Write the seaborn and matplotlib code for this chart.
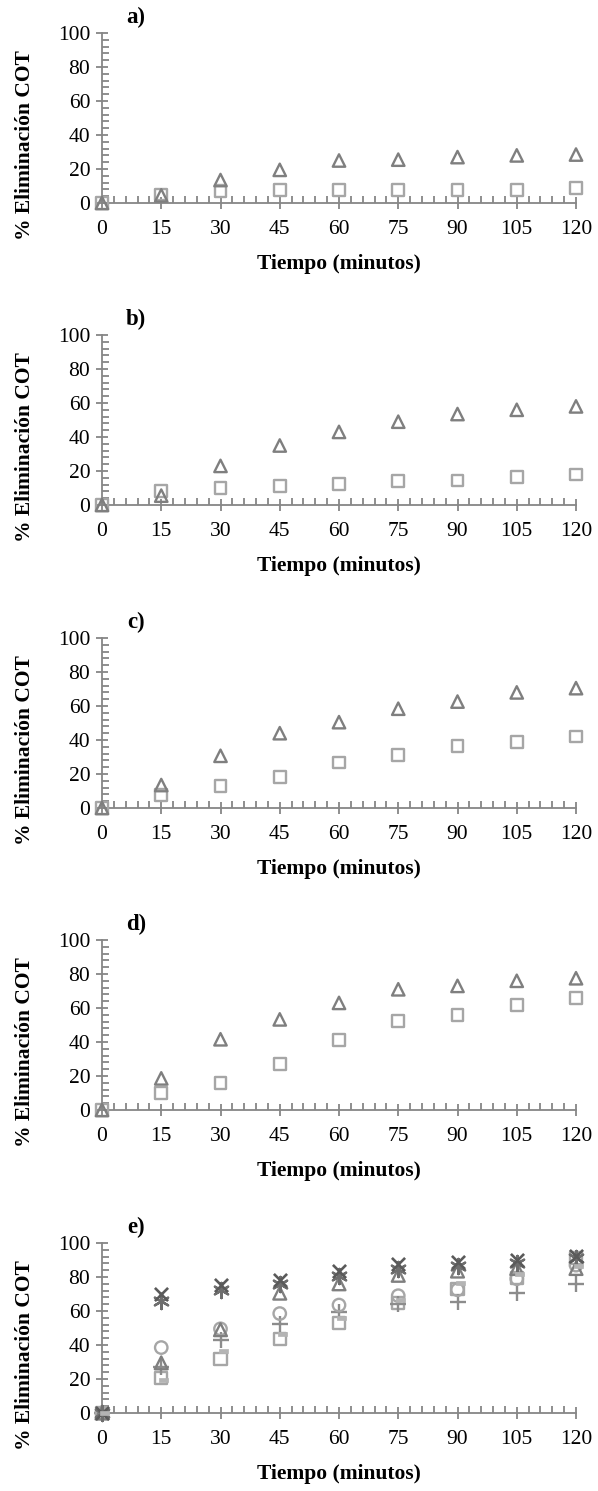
import numpy as np
import matplotlib
matplotlib.use("Agg")
import matplotlib.pyplot as plt
import seaborn as sns
from matplotlib.path import Path
from matplotlib.ticker import MultipleLocator

# time axis (minutes)
tiempo = [0, 15, 30, 45, 60, 75, 90, 105, 120]

# panels a-d: two series each (triangle / square)
a_tri = [0, 4.5, 13.5, 19.5, 25, 25.5, 27, 28, 28.5]
a_sq = [0, 5, 7, 7.8, 7.5, 7.8, 7.8, 7.8, 8.7]
b_tri = [0, 5.5, 23, 35, 43, 49, 53.5, 56, 58]
b_sq = [0, 8.3, 10, 11.2, 12.3, 14, 14.5, 16.5, 18]
c_tri = [0, 13.5, 30.7, 44, 50.5, 58.4, 62.6, 68, 70.5]
c_sq = [0, 7.5, 13, 18.2, 26.8, 31.3, 36.6, 38.7, 42]
d_tri = [0, 18.6, 41.6, 53.3, 63, 71, 73, 76, 77.5]
d_sq = [0, 10, 16, 27, 41.2, 52.4, 56, 61.8, 66]

# panel e: seven series
e_sq = [0, 20.5, 31.5, 43.5, 53, 64.5, 73, 79.5, 91]
e_plus = [0, 27, 43, 52.5, 59.5, 64, 65.5, 70.5, 76]
e_circ = [0, 38.5, 49.5, 58.5, 63.5, 69, 72.5, 79, 87]
e_tri = [0, 29.5, 49, 70.5, 76, 81, 83.5, 85, 85]
e_ast = [0, 66, 72.5, 76, 80.5, 84.5, 86.5, 88, 91]
e_x = [0, 70, 75.5, 78.5, 83.5, 87.5, 89, 90, 92.5]
e_dash = [0, 19.5, 36.5, 46.5, 56, 66.5, 76.5, 82, 86.5]

letras = ["a)", "b)", "c)", "d)", "e)"]

sns.set_style("white")
plt.rcParams["font.family"] = ["Liberation Serif", "DejaVu Serif"]
plt.rcParams["text.color"] = "black"
plt.rcParams["axes.labelcolor"] = "black"

# small bar marker, slightly to the right of the point (as in the original)
dash_marker = Path([(-0.25, -0.28), (0.85, -0.28), (0.85, 0.28), (-0.25, 0.28), (-0.25, -0.28)],
                   [Path.MOVETO, Path.LINETO, Path.LINETO, Path.LINETO, Path.CLOSEPOLY])

fig = plt.figure(figsize=(5.98, 14.91), dpi=100)
W, H = 598, 1491
left_px, width_px, h_px = 102, 474, 170
tops = [33, 335, 638, 940, 1243]

TRI_C = "#7f7f7f"
SQ_C = "#a6a6a6"


def hollow(ax, y, marker, color, s=75, lw=1.7, z=3):
    sns.scatterplot(x=tiempo, y=y, marker=marker, s=s, facecolor="none",
                    edgecolor=color, linewidth=lw, ax=ax, clip_on=False, zorder=z)


def lined(ax, y, marker, color, s=80, lw=1.7, z=3):
    sns.scatterplot(x=tiempo, y=y, marker=marker, s=s, color=color,
                    linewidth=lw, ax=ax, clip_on=False, zorder=z)


axes = []
for i, top in enumerate(tops):
    ax = fig.add_axes([left_px / W, 1 - (top + h_px) / H, width_px / W, h_px / H])
    axes.append(ax)

pairs = [(a_tri, a_sq), (b_tri, b_sq), (c_tri, c_sq), (d_tri, d_sq)]
for ax, (tri, sq) in zip(axes[:4], pairs):
    hollow(ax, sq, "s", SQ_C, s=70)
    hollow(ax, tri, "^", TRI_C, s=80)

ax = axes[4]
hollow(ax, e_sq, "s", SQ_C, s=75)
lined(ax, e_plus, "+", "#8c8c8c", s=120)
hollow(ax, e_circ, "o", SQ_C, s=80)
hollow(ax, e_tri, "^", TRI_C, s=85)
lined(ax, e_ast, (6, 2, 0), "#6e6e6e", s=120, lw=1.7)
lined(ax, e_x, "x", "#5a5a5a", s=90, lw=1.9)
sns.scatterplot(x=tiempo, y=e_dash, marker=dash_marker, s=95, color="#b4b4b4",
                edgecolor="#b4b4b4", linewidth=0.5, ax=ax, clip_on=False, zorder=4)

for ax, letra in zip(axes, letras):
    ax.set_xlim(0, 120)
    ax.set_ylim(0, 100)
    ax.xaxis.set_major_locator(MultipleLocator(15))
    ax.xaxis.set_minor_locator(MultipleLocator(3))
    ax.yaxis.set_major_locator(MultipleLocator(20))
    ax.yaxis.set_minor_locator(MultipleLocator(4))
    for side in ["top", "right"]:
        ax.spines[side].set_visible(False)
    for side in ["left", "bottom"]:
        ax.spines[side].set_color("#868686")
        ax.spines[side].set_linewidth(1.3)
    ax.tick_params(axis="both", which="both", bottom=True, left=True, top=False, right=False)
    ax.tick_params(axis="both", which="major", direction="inout", length=9,
                   width=1.3, color="#868686", labelsize=15.5, labelcolor="black")
    ax.tick_params(axis="both", which="minor", direction="in", length=5,
                   width=1.3, color="#868686")
    ax.tick_params(axis="x", which="major", pad=8)
    ax.tick_params(axis="y", which="major", pad=4)
    ax.set_xlabel("Tiempo (minutos)", fontsize=15.5, fontweight="bold", color="black")
    ax.xaxis.set_label_coords(0.5, -0.36)
    ax.xaxis.label.set_va("center")
    ax.set_ylabel("% Eliminación COT", fontsize=15.5, fontweight="bold", color="black")
    ax.yaxis.set_label_coords(-0.162, 0.34)
    ax.yaxis.label.set_va("center")
    ax.text(0.072, 1.09, letra, transform=ax.transAxes, fontsize=16.5,
            fontweight="bold", ha="center", va="center", color="black")

fig.savefig("out.png", dpi=100)
